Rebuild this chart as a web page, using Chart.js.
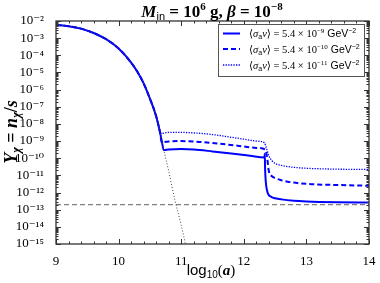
<!DOCTYPE html>
<html><head><meta charset="utf-8">
<script src="https://cdn.jsdelivr.net/npm/chart.js@4/dist/chart.umd.min.js"></script>
<style>html,body{margin:0;padding:0;background:#fff}canvas{display:block}</style>
</head><body>
<canvas id="c" width="380" height="283"></canvas>
<script>
// ---- data (x = log10(a), y = Y_chi) ----
const fallX = [9.0, 9.2, 9.4, 9.6, 9.8, 10.0, 10.2, 10.3, 10.4, 10.5, 10.6, 10.66];
const fallY = [5.9e-3, 5.0e-3, 3.6e-3, 2.0e-3, 8.7e-4, 2.5e-4, 3.8e-5, 1.1e-5, 2.3e-6, 3.0e-7, 2.8e-8, 3.5e-9];

const solidX = [10.69, 10.72, 10.8, 11.0, 11.2, 11.5, 11.8, 12.1, 12.33, 12.335, 12.34, 12.37, 12.43, 12.5, 12.6, 12.8, 13.0, 13.5, 14.0];
const solidY = [1.0e-9, 3.0e-10, 3.2e-10, 3.4e-10, 3.2e-10, 2.5e-10, 1.9e-10, 1.4e-10, 1.1e-10, 1.8e-10, 2.5e-11, 1.4e-12, 5.8e-13, 4.7e-13, 4.0e-13, 3.3e-13, 3.0e-13, 2.7e-13, 2.6e-13];

const dashX = [10.69, 10.8, 11.0, 11.3, 11.6, 11.9, 12.2, 12.34, 12.37, 12.40, 12.45, 12.51, 12.6, 12.7, 13.0, 13.5, 14.0];
const dashY = [8.5e-10, 9.5e-10, 1.0e-9, 8.9e-10, 7.1e-10, 5.4e-10, 4.0e-10, 3.3e-10, 1.26e-10, 1.8e-11, 8.9e-12, 6.8e-12, 5.2e-12, 4.3e-12, 3.2e-12, 2.75e-12, 2.5e-12];

const dotX = [10.67, 10.8, 11.0, 11.2, 11.5, 11.8, 12.0, 12.2, 12.33, 12.36, 12.40, 12.45, 12.5, 12.6, 12.8, 13.0, 13.5, 14.0];
const dotY = [2.8e-9, 3.2e-9, 3.2e-9, 3.0e-9, 2.4e-9, 1.66e-9, 1.3e-9, 1.0e-9, 7.9e-10, 4.0e-10, 1.4e-10, 7.1e-11, 5.0e-11, 3.8e-11, 2.95e-11, 2.6e-11, 2.3e-11, 2.2e-11];

const blackX = [10.72, 10.8, 10.9, 11.0, 11.08];
const blackY = [3.2e-10, 1.8e-11, 3.5e-13, 1.26e-14, 6.3e-16];

const refX = [9, 14];
const refY = [2.0e-13, 2.0e-13];

const xTicks = [9, 10, 11, 12, 13, 14];
const yExps = [-15, -14, -13, -12, -11, -10, -9, -8, -7, -6, -5, -4, -3, -2];

const labels = ['⟨σₐv⟩ = 5.4 × 10⁻⁹ GeV⁻²', '⟨σₐv⟩ = 5.4 × 10⁻¹⁰ GeV⁻²', '⟨σₐv⟩ = 5.4 × 10⁻¹¹ GeV⁻²'];
const legendExps = ['−9', '−10', '−11'];

// ---- helpers ----
const pts = (xs, ys) => xs.map((x, i) => ({x: x, y: ys[i]}));
const SUP = {'-':'⁻','0':'⁰','1':'¹','2':'²','3':'³','4':'⁴','5':'⁵','6':'⁶','7':'⁷','8':'⁸','9':'⁹'};
const sup = s => String(s).split('').map(c => SUP[c] || c).join('');

const SERIF = '"Liberation Serif", "DejaVu Serif", serif';
const SANS = '"Liberation Sans", "DejaVu Sans", sans-serif';

function drawRich(ctx, x, y, segs, align) {
  let w = 0;
  segs.forEach(s => { ctx.font = s[1]; w += ctx.measureText(s[0]).width; });
  let cx = align === 'center' ? x - w / 2 : x;
  ctx.textBaseline = 'alphabetic';
  ctx.textAlign = 'left';
  segs.forEach(s => { ctx.font = s[1]; ctx.fillText(s[0], cx, y + (s[2] || 0)); cx += ctx.measureText(s[0]).width; });
  return w;
}

const decor = {
  id: 'decor',
  afterDraw(chart) {
    const ctx = chart.ctx, a = chart.chartArea;
    const xs = chart.scales.x, ys = chart.scales.y;
    ctx.save();
    ctx.strokeStyle = '#333';
    ctx.lineWidth = 1;
    // ticks inward
    ctx.beginPath();
    for (let v = 9; v <= 14.0001; v += 0.2) {
      const px = Math.round(xs.getPixelForValue(v)) + 0.5;
      const major = Math.abs(v - Math.round(v)) < 1e-6;
      const L = major ? 5 : 2.5;
      ctx.moveTo(px, a.bottom); ctx.lineTo(px, a.bottom - L);
      ctx.moveTo(px, a.top); ctx.lineTo(px, a.top + L);
    }
    for (let e = -15; e <= -2; e++) {
      for (let m = 1; m <= 9; m++) {
        if (e === -2 && m > 1) break;
        const py = Math.round(ys.getPixelForValue(m * Math.pow(10, e))) + 0.5;
        const L = m === 1 ? 5 : 2.5;
        ctx.moveTo(a.left, py); ctx.lineTo(a.left + L, py);
        ctx.moveTo(a.right, py); ctx.lineTo(a.right - L, py);
      }
    }
    ctx.stroke();
    // frame
    ctx.lineWidth = 1.3;
    ctx.strokeRect(a.left, a.top, a.right - a.left, a.bottom - a.top);

    ctx.fillStyle = '#000';
    // title
    drawRich(ctx, 212, 17, [
      ['M', 'bold italic 17px ' + SERIF, 0],
      ['in', '11px ' + SANS, 3],
      [' = 10', 'bold 17px ' + SERIF, 0],
      ['6', 'bold 11px ' + SERIF, -7],
      [' g, ', 'bold 17px ' + SERIF, 0],
      ['β', 'bold italic 17px ' + SERIF, 0],
      [' = 10', 'bold 17px ' + SERIF, 0],
      ['−8', 'bold 11px ' + SERIF, -7]
    ], 'center');
    // x title
    drawRich(ctx, 211, 275, [
      ['log', '15px ' + SANS, 0],
      ['10', '10px ' + SANS, 3],
      ['(', '15px ' + SERIF, 0],
      ['a', 'bold italic 15px ' + SERIF, 0],
      [')', '15px ' + SERIF, 0]
    ], 'center');
    // y title
    ctx.save();
    ctx.translate(17, 132);
    ctx.rotate(-Math.PI / 2);
    drawRich(ctx, 0, 0, [
      ['Y', 'bold italic 18px ' + SERIF, 0],
      ['χ', 'bold italic 12px ' + SERIF, 3],
      [' = ', 'bold 18px ' + SERIF, 0],
      ['n', 'bold italic 18px ' + SERIF, 0],
      ['χ', 'bold italic 12px ' + SERIF, 3],
      ['/', 'bold 18px ' + SERIF, 0],
      ['s', 'bold italic 18px ' + SERIF, 0]
    ], 'center');
    ctx.restore();

    // legend
    ctx.fillStyle = '#fff';
    ctx.fillRect(218, 24, 146, 52);
    ctx.strokeStyle = '#555';
    ctx.lineWidth = 1;
    ctx.strokeRect(218.5, 24.5, 146, 52);
    const rows = [33.5, 49, 65];
    const styles = [[2, []], [2, [5, 3]], [1.3, [1.3, 1.3]]];
    rows.forEach((ry, i) => {
      ctx.strokeStyle = 'blue';
      ctx.lineWidth = styles[i][0];
      ctx.setLineDash(styles[i][1]);
      ctx.beginPath(); ctx.moveTo(223, ry); ctx.lineTo(240, ry); ctx.stroke();
      ctx.setLineDash([]);
      ctx.fillStyle = '#000';
      drawRich(ctx, 249, ry + 3.5, [
        ['⟨', '10.5px ' + SERIF, 0],
        ['σ', 'italic 10.5px ' + SERIF, 0],
        ['a', '7px ' + SANS, 2],
        ['v', 'italic 10.5px ' + SERIF, 0],
        ['⟩ = 5.4 × 10', '10.5px ' + SERIF, 0],
        [legendExps[i], '7px ' + SERIF, -4],
        [' GeV', '10.5px ' + SANS, 0],
        ['−2', '7px ' + SANS, -4]
      ], 'left');
    });
    ctx.restore();
  }
};

const ds = (label, xs, ys, color, width, dash, order) => ({
  label: label, data: pts(xs, ys), borderColor: color, backgroundColor: color,
  borderWidth: width, borderDash: dash, pointRadius: 0, fill: false,
  cubicInterpolationMode: 'monotone', order: order
});

new Chart(document.getElementById('c'), {
  type: 'line',
  data: {
    datasets: [
      ds('decay', fallX.concat(blackX), fallY.concat(blackY), '#444', 1, [1, 2], 0),
      ds(labels[0], fallX.concat(solidX), fallY.concat(solidY), 'blue', 2, [], 1),
      ds(labels[1], fallX.concat(dashX), fallY.concat(dashY), 'blue', 2, [5, 3], 2),
      ds(labels[2], fallX.concat(dotX), fallY.concat(dotY), 'blue', 1.3, [1.3, 1.3], 3),
      ds('reference', refX, refY, '#808080', 1.3, [5, 3], 4)
    ]
  },
  options: {
    responsive: false, animation: false,
    layout: {padding: {left: 0, right: 11, top: 21, bottom: 0}},
    plugins: {legend: {display: false}, tooltip: {enabled: false}, title: {display: false}},
    scales: {
      x: {
        type: 'linear', min: 9, max: 14,
        grid: {display: false}, border: {display: false},
        afterBuildTicks: s => { s.ticks = xTicks.map(v => ({value: v})); },
        afterFit: s => { s.height = 39; },
        ticks: {padding: 2, color: '#000', font: {family: SERIF, size: 13}, maxRotation: 0, autoSkip: false,
          callback: v => String(v)}
      },
      y: {
        type: 'logarithmic', min: 1e-15, max: 1e-2,
        grid: {display: false}, border: {display: false},
        afterBuildTicks: s => { s.ticks = yExps.map(e => ({value: Math.pow(10, e)})); },
        afterFit: s => { s.width = 56; },
        ticks: {padding: 4, color: '#000', font: {family: SERIF, size: 13}, autoSkip: false,
          callback: v => '10' + sup(Math.round(Math.log10(v)))}
      }
    }
  },
  plugins: [decor]
});
</script>
</body></html>
